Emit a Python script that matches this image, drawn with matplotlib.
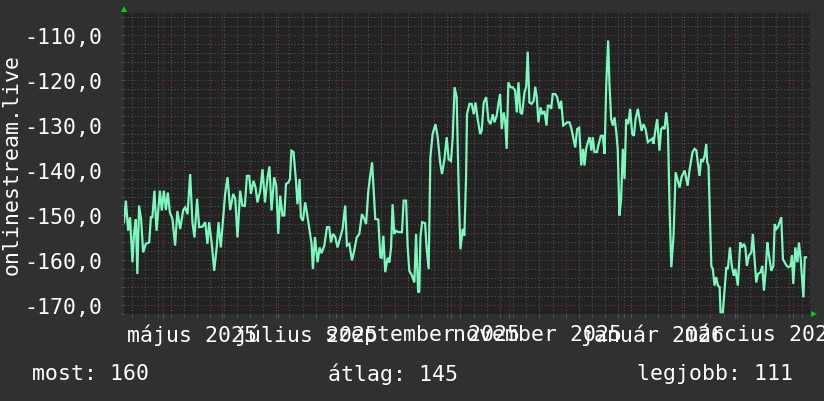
import numpy as np
import pandas as pd
import matplotlib
matplotlib.use("Agg")
import matplotlib.pyplot as plt
import matplotlib.dates as mdates
from matplotlib.ticker import MultipleLocator, FuncFormatter

# ---------------- data ----------------
start_date = "2025-04-10"
end_date = "2026-04-10"

day_offsets = [
    0.0, 1.0, 2.2, 3.2, 4.5, 5.4, 6.3, 7.1, 8.0, 9.1, 10.2, 11.6, 13.4, 14.3, 15.1, 16.2, 17.3,
    19.1, 20.1, 21.2, 22.3, 23.3, 24.4, 25.8, 27.2, 28.4, 29.9, 31.5, 32.5, 33.8, 35.2, 36.4,
    37.5, 38.9, 40.0, 41.7, 43.2, 44.4, 45.3, 46.8, 48.0, 49.4, 50.3, 51.5, 53.8, 55.1, 56.5,
    58.1, 59.2, 60.4, 61.8, 63.0, 64.3, 65.4, 66.6, 67.5, 68.9, 70.0, 71.0, 72.5, 73.7, 75.0,
    76.4, 77.4, 78.5, 79.9, 81.0, 82.1, 83.1, 84.3, 85.3, 86.2, 87.4, 88.3, 89.1, 90.2, 91.5,
    92.3, 93.4, 94.1, 95.2, 96.4, 97.3, 98.6, 99.8, 100.5, 101.6, 103.0, 104.1, 105.1, 106.6,
    108.0, 109.2, 110.1, 111.2, 112.4, 113.6, 115.1, 116.3, 117.7, 118.6, 119.9, 121.3, 122.5,
    123.8, 125.2, 126.6, 127.9, 128.8, 130.0, 131.0, 132.0, 132.8, 133.7, 135.3, 136.4, 137.1,
    138.0, 139.0, 140.3, 141.2, 142.1, 142.9, 143.8, 144.7, 146.0, 147.9, 148.8, 150.1, 150.9,
    151.8, 153.3, 154.5, 155.4, 156.5, 157.1, 157.7, 158.6, 160.2, 161.0, 162.1, 163.0, 164.2,
    165.7, 166.9, 168.2, 169.2, 170.5, 171.7, 172.7, 174.0, 174.9, 175.9, 177.0, 178.1, 179.0,
    180.2, 181.1, 182.0, 182.5, 183.8, 185.0, 186.1, 187.0, 188.2, 189.5, 190.3, 191.4, 192.7,
    193.9, 195.0, 196.2, 197.1, 198.3, 199.2, 200.1, 201.0, 202.0, 202.8, 203.6, 204.5, 205.6,
    206.8, 208.1, 209.0, 209.9, 210.9, 211.8, 213.1, 214.0, 214.8, 215.7, 216.9, 218.0, 218.8,
    219.6, 220.5, 221.6, 222.5, 223.7, 224.8, 225.5, 226.4, 227.3, 228.1, 229.4, 230.5, 231.7,
    232.6, 233.7, 234.7, 235.8, 237.0, 237.9, 239.0, 240.1, 241.1, 242.2, 243.3, 244.3, 245.0,
    245.9, 246.8, 247.7, 248.7, 249.4, 250.3, 251.6, 252.6, 253.7, 254.8, 255.7, 256.6, 257.6,
    258.3, 259.2, 260.1, 261.0, 261.9, 262.7, 263.6, 264.5, 265.4, 266.3, 267.2, 268.3, 269.3,
    270.4, 271.3, 272.2, 273.4, 274.3, 275.4, 276.4, 277.5, 278.7, 280.0, 281.1, 281.7, 282.8,
    283.7, 284.9, 285.8, 286.7, 287.6, 288.5, 289.4, 290.3, 291.2, 292.4, 293.5, 295.6, 296.7,
    298.3, 299.9, 300.9, 302.5, 303.6, 304.5, 305.3, 306.2, 307.1, 308.0, 308.9, 309.8, 310.3,
    311.0, 311.6, 312.5, 313.3, 314.2, 315.1, 316.0, 316.9, 317.4, 318.6, 319.6, 320.5, 321.3,
    322.4, 323.4, 324.5, 325.3, 326.6, 327.9, 328.8, 329.8, 330.6, 331.4, 332.5, 333.8, 334.6,
    335.5, 336.4, 337.3, 338.7, 339.6, 340.5, 341.4, 342.3, 343.1, 344.4, 345.5, 346.2, 347.1,
    347.9, 348.8, 349.7, 350.6, 351.5, 352.6, 353.6, 354.7, 355.4, 356.1, 357.2, 358.3, 359.1,
    360.0, 360.7, 361.5, 362.2, 362.9,
]

values = [
    -151.6, -146.8, -153.5, -150.5, -160.5, -153.8, -150.9, -163.1, -147.9, -150.9, -158.3, -156.4,
    -156.1, -150.5, -150.5, -144.6, -153.5, -144.6, -149.0, -144.6, -148.9, -145.0, -149.4, -150.9,
    -156.8, -149.1, -153.1, -148.9, -148.3, -149.8, -140.9, -151.6, -155.0, -146.4, -152.7, -152.6,
    -151.6, -156.4, -151.6, -156.8, -162.4, -156.8, -151.6, -157.2, -145.3, -141.6, -148.9, -145.3,
    -146.4, -155.0, -144.6, -147.9, -148.0, -141.3, -141.3, -145.3, -142.4, -143.9, -147.2, -144.6,
    -139.8, -147.2, -141.6, -139.2, -149.0, -141.6, -143.5, -154.2, -145.7, -150.1, -150.1, -143.1,
    -142.8, -142.0, -135.7, -136.0, -142.4, -147.6, -142.0, -150.5, -151.3, -147.2, -149.4, -153.1,
    -156.4, -162.0, -154.9, -160.5, -157.2, -158.5, -156.8, -152.7, -152.7, -156.1, -154.2, -154.9,
    -157.2, -154.9, -153.1, -147.9, -156.8, -156.4, -160.1, -157.9, -155.0, -154.2, -149.8, -150.9,
    -152.0, -144.6, -141.3, -138.3, -144.2, -150.9, -151.0, -159.4, -159.5, -154.6, -162.7, -159.5,
    -160.6, -157.2, -147.6, -154.2, -153.5, -153.8, -153.8, -146.8, -146.8, -156.8, -162.4, -163.5,
    -165.0, -154.2, -167.2, -167.0, -155.0, -151.6, -151.8, -157.2, -162.0, -137.2, -132.0, -129.8,
    -132.7, -138.3, -140.9, -137.6, -132.7, -137.6, -138.0, -132.7, -121.6, -123.8, -145.0, -157.6,
    -153.1, -154.6, -141.6, -127.6, -125.3, -125.3, -127.6, -125.0, -128.7, -132.0, -131.3, -125.0,
    -123.8, -129.0, -129.8, -127.6, -129.4, -127.9, -125.3, -123.1, -130.9, -127.2, -129.0, -135.3,
    -120.5, -121.6, -121.6, -122.3, -127.2, -120.5, -127.2, -127.6, -122.7, -121.5, -113.7, -125.0,
    -125.3, -124.6, -121.5, -123.7, -129.4, -126.1, -127.6, -126.9, -130.1, -125.7, -125.7, -126.4,
    -123.1, -123.1, -123.8, -126.4, -124.6, -130.1, -129.8, -129.4, -129.4, -130.5, -132.7, -135.0,
    -130.9, -130.6, -139.0, -135.3, -139.0, -135.3, -133.8, -132.7, -135.7, -132.7, -136.0, -136.0,
    -134.2, -132.4, -132.4, -136.4, -120.9, -111.2, -120.9, -128.7, -130.1, -128.3, -131.5, -135.3,
    -150.1, -146.4, -135.3, -142.0, -128.7, -129.8, -126.4, -132.0, -132.4, -128.7, -126.4, -128.7,
    -131.3, -129.8, -130.9, -133.8, -133.4, -133.0, -134.2, -130.9, -128.7, -135.7, -130.9, -130.5,
    -130.9, -127.2, -130.9, -148.7, -161.6, -154.6, -140.5, -143.9, -141.5, -140.1, -143.5, -140.0,
    -136.0, -135.3, -135.6, -138.3, -141.3, -137.6, -138.0, -136.9, -134.2, -138.3, -139.0, -148.3,
    -161.3, -162.0, -165.7, -163.8, -165.7, -166.0, -171.6, -171.6, -166.4, -161.6, -162.0, -157.2,
    -161.3, -163.5, -162.0, -165.7, -156.1, -157.2, -156.4, -157.2, -161.3, -159.0, -158.3, -154.2,
    -159.8, -165.0, -163.1, -162.7, -161.3, -166.8, -162.4, -156.1, -158.7, -162.4, -161.3, -152.0,
    -153.1, -152.7, -151.6, -150.5, -159.8, -160.5, -161.3, -161.6, -161.3, -159.0, -165.3, -157.2,
    -160.5, -156.1, -159.5, -163.5, -168.3, -159.4, -159.4,
]

y_ticks = [-170, -160, -150, -140, -130, -120, -110]
label_months = ["május 2025", "július 2025", "szeptember 2025",
                "november 2025", "január 2026", "március 2026"]
label_dates = ["2025-05-16", "2025-07-16", "2025-09-16",
               "2025-11-16", "2026-01-16", "2026-03-16"]
y_title = "onlinestream.live"
stat_labels = ["most", "átlag", "legjobb"]
stat_values = [160, 145, 111]

# ---------------- styling ----------------
BG = "#303030"
CANVAS = "#222222"
LINE = "#7cf7bd"
MINOR = "#555555"
MAJOR = "#7a3434"
TEXT = "#ffffff"
ARROW = "#00d000"
FONT = "DejaVu Sans Mono"
FS = 15.5

W, H = 824, 402
fig = plt.figure(figsize=(W / 100, H / 100), dpi=100, facecolor=BG)
L, R, T, B = 124, 810, 14, 315
ax = fig.add_axes([L / W, 1 - B / H, (R - L) / W, (B - T) / H])
ax.set_facecolor(CANVAS)

dates = pd.Timestamp(start_date) + pd.to_timedelta(np.array(day_offsets), unit="D")
ax.plot(dates, values, color=LINE, lw=1.6, solid_joinstyle="miter", zorder=3)

ax.set_xlim(pd.Timestamp(start_date), pd.Timestamp(end_date))
ax.set_ylim(-172, -105.1)

# grids
ax.xaxis.set_major_locator(mdates.MonthLocator(bymonthday=1))
ax.xaxis.set_minor_locator(mdates.WeekdayLocator(byweekday=mdates.MO))
ax.yaxis.set_major_locator(MultipleLocator(10))
ax.yaxis.set_minor_locator(MultipleLocator(2))
ax.grid(which="minor", color=MINOR, lw=0.8, linestyle=(0, (1, 2)), zorder=1)
ax.grid(which="major", color=MAJOR, lw=0.8, linestyle=(0, (1, 2)), zorder=2)

ax.set_yticks(y_ticks)
ax.yaxis.set_major_formatter(FuncFormatter(lambda v, p: f"{v:.1f}".replace(".", ",")))
ax.tick_params(axis="y", which="major", length=2, color=MINOR, pad=14,
               labelsize=FS, labelcolor=TEXT)
ax.tick_params(axis="y", which="minor", length=2, color=MINOR)
ax.tick_params(axis="x", which="both", length=3, color=MINOR, labelbottom=False)
for lab in ax.get_yticklabels():
    lab.set_fontfamily(FONT)

for s in ax.spines.values():
    s.set_visible(False)

sec = ax.secondary_xaxis("bottom")
sec.set_xticks([pd.Timestamp(d) for d in label_dates], labels=label_months)
sec.tick_params(length=0, pad=7, labelsize=FS, labelcolor=TEXT)
for lab in sec.get_xticklabels():
    lab.set_fontfamily(FONT)
for s in sec.spines.values():
    s.set_visible(False)

# arrows
ax.plot([0.0], [1.0], marker="^", color=ARROW, ms=5, transform=ax.transAxes,
        clip_on=False, zorder=5, markeredgewidth=0,
        markevery=None)
ax.lines[-1].set_transform(ax.transAxes + matplotlib.transforms.ScaledTranslation(0, 4 / 100, fig.dpi_scale_trans))
ax.plot([1.0], [0.0], marker=">", color=ARROW, ms=5, clip_on=False, zorder=5,
        markeredgewidth=0,
        transform=ax.transAxes + matplotlib.transforms.ScaledTranslation(4 / 100, 0, fig.dpi_scale_trans))

# y title
fig.text(12 / W, 1 - 164.5 / H, y_title, rotation=90, ha="center", va="center",
         color=TEXT, fontsize=FS, fontfamily=FONT)

# bottom stats
stat_x = [32, 328, 637]
for x, lab, val in zip(stat_x, stat_labels, stat_values):
    fig.text(x / W, 1 - 374 / H, f"{lab}: {val}", ha="left", va="center",
             color=TEXT, fontsize=FS, fontfamily=FONT)

fig.savefig("out.png", dpi=100, facecolor=BG)
